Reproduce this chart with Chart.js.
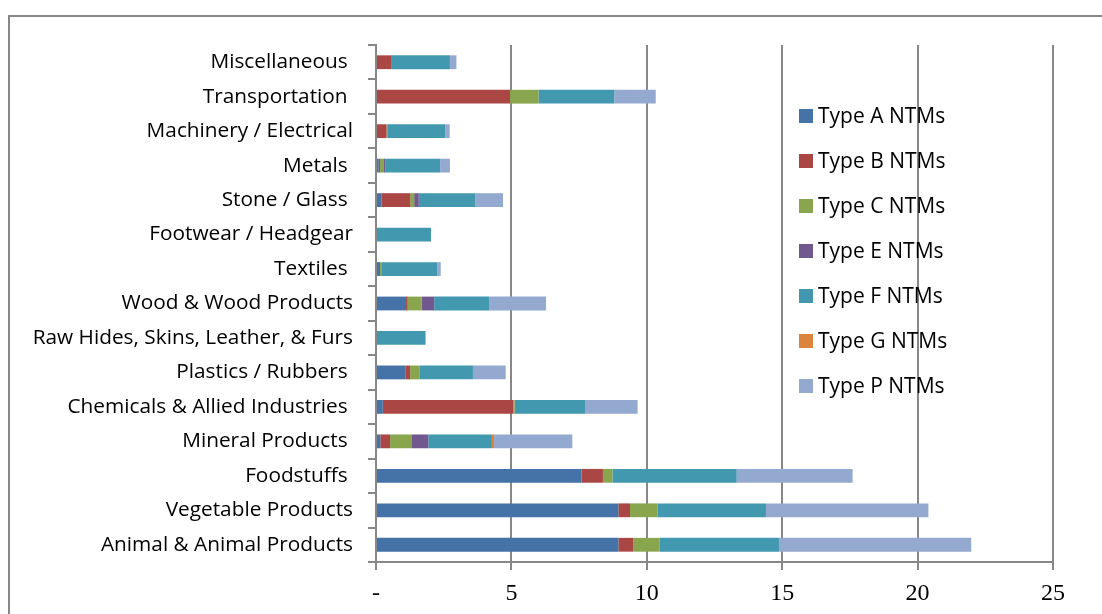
<!DOCTYPE html>
<html>
<head>
<meta charset="utf-8">
<script src="https://cdn.jsdelivr.net/npm/chart.js@4.4.1/dist/chart.umd.min.js"></script>
<style>
  body { margin: 0; background: #fff; }
  #wrap { width: 1102px; height: 614px; }
</style>
</head>
<body>
<div id="wrap"><canvas id="bars"></canvas></div>
<script>
// sectors, top to bottom as drawn
const sectors = [
  'Miscellaneous ', 'Transportation ', 'Machinery / Electrical', 'Metals ',
  'Stone / Glass ', 'Footwear / Headgear', 'Textiles ', 'Wood & Wood Products',
  'Raw Hides, Skins, Leather, & Furs', 'Plastics / Rubbers ',
  'Chemicals & Allied Industries ', 'Mineral Products ', 'Foodstuffs ',
  'Vegetable Products', 'Animal & Animal Products'
]
const typeA = [0, 0, 0, 0.1, 0.21, 0, 0.15, 1.11, 0, 1.08, 0.25, 0.16, 7.59, 8.95, 8.95]
const typeB = [0.58, 4.95, 0.39, 0.05, 1.05, 0, 0, 0.06, 0, 0.18, 4.82, 0.36, 0.79, 0.43, 0.55]
const typeC = [0, 1.05, 0.05, 0.12, 0.15, 0, 0.07, 0.52, 0, 0.36, 0.05, 0.81, 0.35, 1.01, 0.98]
const typeE = [0, 0, 0, 0.07, 0.17, 0, 0, 0.46, 0, 0, 0.04, 0.6, 0, 0, 0]
const typeF = [2.15, 2.8, 2.12, 2.03, 2.09, 2.03, 2.04, 2.03, 1.83, 1.96, 2.56, 2.35, 4.59, 4.01, 4.4]
const typeG = [0, 0, 0, 0, 0, 0, 0, 0, 0, 0, 0, 0.08, 0, 0, 0]
const typeP = [0.24, 1.53, 0.16, 0.36, 1.02, 0, 0.13, 2.1, 0, 1.21, 1.94, 2.89, 4.28, 6.0, 7.1]

const seriesNames = ['Type A NTMs', 'Type B NTMs', 'Type C NTMs', 'Type E NTMs', 'Type F NTMs', 'Type G NTMs', 'Type P NTMs']
const seriesData = [typeA, typeB, typeC, typeE, typeF, typeG, typeP]
// office 2007 palette
const colors = ['#4572A7', '#AA4643', '#89A54E', '#71588F', '#4198AF', '#DB843D', '#93A9CF']
const xTicks = [0, 5, 10, 15, 20, 25]

const gridGrey = '#878787'
const labelFont = '"Open Sans"'

// white page + the cropped chart frame
const frame = {
  id: 'frame',
  beforeDraw(chart) {
    const ctx = chart.ctx
    ctx.save()
    ctx.fillStyle = '#fff'
    ctx.fillRect(0, 0, chart.width, chart.height)
    ctx.strokeStyle = gridGrey
    ctx.lineWidth = 2
    ctx.beginPath()
    ctx.moveTo(9, chart.height)
    ctx.lineTo(9, 16)
    ctx.lineTo(chart.width, 16)
    ctx.stroke()
    ctx.restore()
  }
}

// legend sits inside the plot, one item per row
const legendBox = {
  id: 'legendBox',
  afterDraw(chart) {
    const ctx = chart.ctx
    ctx.save()
    ctx.font = '21px ' + labelFont
    ctx.textBaseline = 'middle'
    chart.data.datasets.forEach((ds, i) => {
      const y = 116 + i * 45
      ctx.fillStyle = ds.backgroundColor
      ctx.fillRect(799, y - 7, 14, 14)
      ctx.fillStyle = '#000'
      ctx.fillText(ds.label, 818, y + 1)
    })
    ctx.restore()
  }
}

const barConfig = {
  type: 'bar',
  data: {
    labels: sectors,
    datasets: seriesNames.map((name, i) => ({
      label: name,
      data: seriesData[i],
      backgroundColor: colors[i],
      categoryPercentage: 0.8,
      barPercentage: 0.5,
    })),
  },
  options: {
    indexAxis: 'y',
    responsive: true,
    maintainAspectRatio: false,
    animation: false,
    layout: { padding: { top: 45, right: 49, left: 0, bottom: 0 } },
    plugins: {
      legend: { display: false },
      tooltip: { enabled: false },
    },
    scales: {
      x: {
        stacked: true,
        min: 0,
        max: 25,
        afterBuildTicks: (scale) => { scale.ticks = xTicks.map(v => ({ value: v })) },
        afterFit: (scale) => { scale.height = 52 },
        grid: { color: gridGrey, lineWidth: 2, tickLength: 8 },
        border: { color: gridGrey, width: 2 },
        ticks: {
          color: '#000',
          padding: 9,
          maxRotation: 0,
          font: { family: 'Liberation Serif', size: 24 },
          callback: (v) => v === 0 ? '-' : v,
        },
      },
      y: {
        stacked: true,
        afterFit: (scale) => { scale.width = 376 },
        grid: { offset: true, drawOnChartArea: false, color: gridGrey, lineWidth: 2, tickLength: 8 },
        border: { color: gridGrey, width: 2 },
        ticks: {
          color: '#000',
          padding: 15,
          autoSkip: false,
          font: { family: labelFont, size: 20.8 },
        },
      },
    },
  },
  plugins: [frame, legendBox],
}

window.myBars = new Chart(document.getElementById('bars'), barConfig)
</script>
</body>
</html>
